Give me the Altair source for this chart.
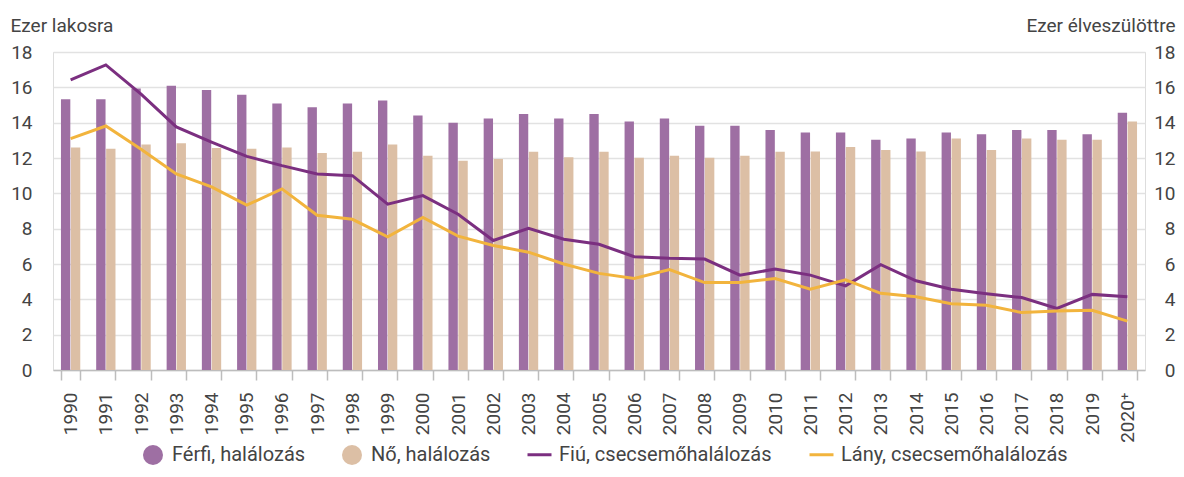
import altair as alt
import pandas as pd

years = [str(y) for y in range(1990, 2020)] + ["2020⁺"]

ferfi = [15.33, 15.33, 15.94, 16.09, 15.85, 15.58, 15.09, 14.87, 15.09, 15.26,
         14.41, 14.0, 14.24, 14.49, 14.24, 14.49, 14.07, 14.24, 13.83, 13.83,
         13.59, 13.44, 13.44, 13.03, 13.1, 13.44, 13.35, 13.59, 13.59, 13.35,
         14.56]
no = [12.6, 12.52, 12.77, 12.84, 12.56, 12.52, 12.6, 12.28, 12.36, 12.77,
      12.13, 11.85, 11.94, 12.36, 12.04, 12.36, 12.02, 12.13, 12.02, 12.13,
      12.36, 12.37, 12.62, 12.45, 12.37, 13.1, 12.45, 13.1, 13.03, 13.03,
      14.07]
fiu = [16.42, 17.27, 15.62, 13.76, 12.9, 12.09, 11.57, 11.1, 11.0, 9.39,
       9.87, 8.82, 7.33, 8.02, 7.4, 7.12, 6.41, 6.32, 6.28, 5.37,
       5.71, 5.37, 4.76, 5.96, 5.05, 4.57, 4.32, 4.1, 3.49, 4.28,
       4.15]
lany = [13.1, 13.81, 12.5, 11.1, 10.37, 9.33, 10.25, 8.76, 8.53, 7.54,
        8.63, 7.58, 7.05, 6.67, 6.0, 5.47, 5.18, 5.68, 4.95, 4.95,
        5.18, 4.57, 5.1, 4.34, 4.15, 3.75, 3.66, 3.25, 3.34, 3.38,
        2.77]

bar_series = ["Férfi, halálozás", "Nő, halálozás"]
line_series = ["Fiú, csecsemőhalálozás", "Lány, csecsemőhalálozás"]
bar_colors = ["#9E6FA3", "#DCBFA5"]
line_colors = ["#7B2F80", "#F2B43D"]
y_ticks = [0, 2, 4, 6, 8, 10, 12, 14, 16, 18]

FONT = "Roboto"
TXT = "#444444"

bars_df = pd.DataFrame({
    "year": years * 2,
    "series": [bar_series[0]] * len(years) + [bar_series[1]] * len(years),
    "value": ferfi + no,
})
lines_df = pd.DataFrame({
    "year": years * 2,
    "series": [line_series[0]] * len(years) + [line_series[1]] * len(years),
    "value": fiu + lany,
})

xscale = alt.Scale(domain=years, paddingInner=0.452, paddingOuter=0.226)
xaxis = alt.Axis(title=None, labelAngle=270, labelFontSize=19, labelColor=TXT,
                 labelFont=FONT, labelPadding=12, tickBand="extent", tickSize=10,
                 tickColor="#bdbdbd", tickWidth=1.5, domainColor="#bdbdbd",
                 domainWidth=1.5, grid=False)

LEG_Y = 393

bars = alt.Chart(bars_df).mark_bar().encode(
    x=alt.X("year:N", scale=xscale, axis=xaxis),
    xOffset=alt.XOffset("series:N", scale=alt.Scale(domain=bar_series, paddingInner=0.06)),
    y=alt.Y("value:Q", scale=alt.Scale(domain=[0, 18], nice=False),
            axis=alt.Axis(orient="left", title="Ezer lakosra", titleAngle=0,
                          titleAlign="left", titleBaseline="middle", titleX=-43,
                          titleY=-27, titleFontSize=19, titleFontWeight="normal",
                          titleColor=TXT, titleFont=FONT, values=y_ticks,
                          labelFontSize=19, labelColor=TXT, labelFont=FONT,
                          labelPadding=21, ticks=False, tickSize=0, domain=False,
                          grid=True, gridColor="#e2e2e2", gridWidth=1.5)),
    fill=alt.Fill("series:N", scale=alt.Scale(domain=bar_series, range=bar_colors),
                  legend=alt.Legend(orient="none", legendX=90, legendY=LEG_Y,
                                    direction="horizontal", title=None,
                                    symbolType="circle", symbolSize=400,
                                    symbolStrokeWidth=0, symbolOpacity=1,
                                    labelFontSize=20, labelColor=TXT, labelFont=FONT,
                                    labelLimit=0, labelOffset=9, columnPadding=36)),
)

lines = alt.Chart(lines_df).mark_line(strokeWidth=3).encode(
    x=alt.X("year:N", scale=xscale, axis=xaxis),
    y=alt.Y("value:Q", scale=alt.Scale(domain=[0, 18], nice=False),
            axis=alt.Axis(orient="right", title="Ezer élveszülöttre", titleAngle=0,
                          titleAlign="right", titleBaseline="middle", titleX=30,
                          titleY=-27, titleFontSize=19, titleFontWeight="normal",
                          titleColor=TXT, titleFont=FONT, values=y_ticks,
                          labelFontSize=19, labelColor=TXT, labelFont=FONT,
                          labelAlign="right", labelPadding=30, ticks=False,
                          tickSize=0, domain=False, grid=False)),
    stroke=alt.Stroke("series:N", scale=alt.Scale(domain=line_series, range=line_colors),
                      legend=alt.Legend(orient="none", legendX=473, legendY=LEG_Y - 4,
                                        direction="horizontal", title=None,
                                        symbolType="stroke", symbolSize=576,
                                        symbolStrokeWidth=3, labelFontSize=20,
                                        labelColor=TXT, labelFont=FONT,
                                        labelLimit=0, labelOffset=6, columnPadding=31)),
)

chart = alt.layer(bars, lines).resolve_scale(
    y="independent", fill="independent", stroke="independent"
).properties(
    width=1092, height=318,
    padding={"left": 45, "top": 44, "right": 31, "bottom": 99},
    autosize=alt.AutoSizeParams(type="none"),
).configure_view(stroke=None).configure(font=FONT)

chart.save("out.html", embed_options={"renderer": "svg", "actions": False})
